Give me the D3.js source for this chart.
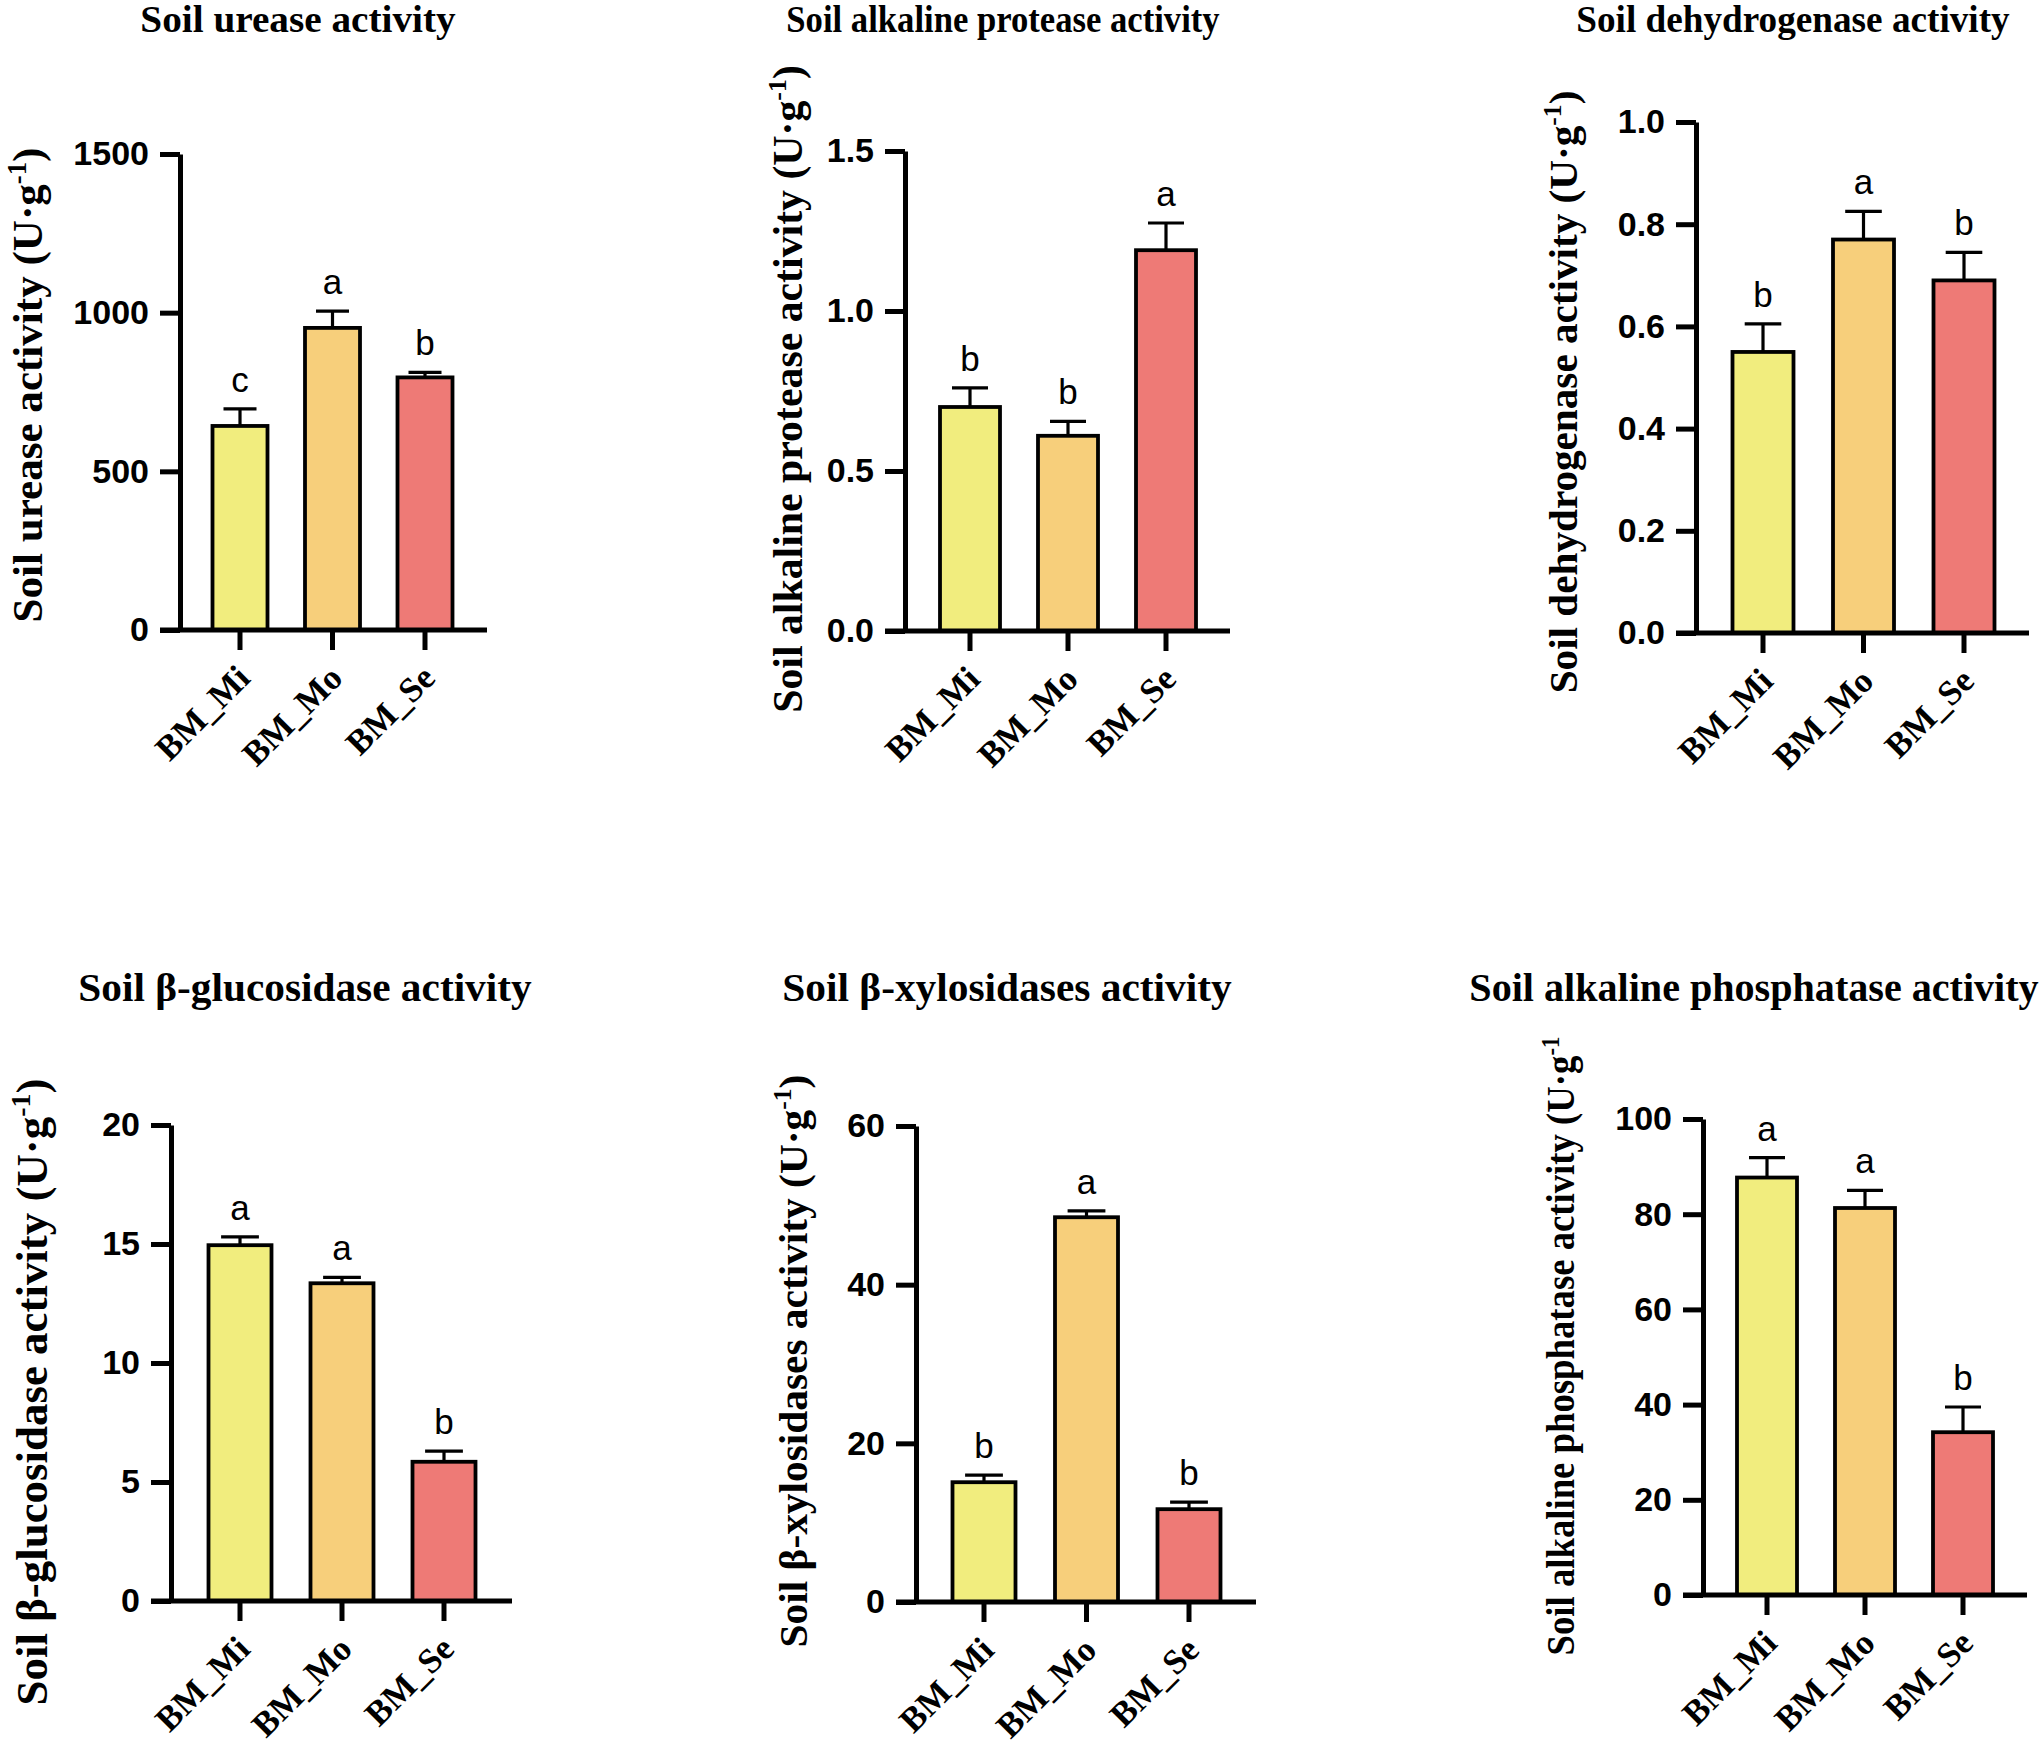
<!DOCTYPE html>
<html>
<head>
<meta charset="utf-8">
<script src="https://cdn.jsdelivr.net/npm/d3@7"></script>
<style>
  body { margin: 0; background: #fff; }
</style>
</head>
<body>
<script>

var W = 2041, H = 1748;

// groups and colours
var groups = ["BM_Mi", "BM_Mo", "BM_Se"];
var barColors = ["#F1ED7E", "#F7CF7B", "#EE7A76"];

// values (mean, error bar, letters, ticks)
var ureaseMean = [643, 952, 796];
var ureaseErr = [54, 53, 16];
var ureaseSig = ["c", "a", "b"];
var ureaseTicks = [0, 500, 1000, 1500];

var proteaseMean = [0.70, 0.61, 1.19];
var proteaseErr = [0.06, 0.045, 0.085];
var proteaseSig = ["b", "b", "a"];
var proteaseTicks = [0, 0.5, 1.0, 1.5];

var dehydMean = [0.55, 0.77, 0.69];
var dehydErr = [0.055, 0.055, 0.055];
var dehydSig = ["b", "a", "b"];
var dehydTicks = [0, 0.2, 0.4, 0.6, 0.8, 1.0];

var glucoMean = [14.95, 13.35, 5.85];
var glucoErr = [0.35, 0.25, 0.45];
var glucoSig = ["a", "a", "b"];
var glucoTicks = [0, 5, 10, 15, 20];

var xyloMean = [15.1, 48.5, 11.7];
var xyloErr = [0.9, 0.8, 0.9];
var xyloSig = ["b", "a", "b"];
var xyloTicks = [0, 20, 40, 60];

var phosMean = [87.7, 81.3, 34.2];
var phosErr = [4.2, 3.7, 5.3];
var phosSig = ["a", "a", "b"];
var phosTicks = [0, 20, 40, 60, 80, 100];

var serif = "'Liberation Serif', 'Times New Roman', serif";
var sans = "'Liberation Sans', Arial, sans-serif";

// layout of each panel
var panels = [
  {title: "Soil urease activity", label: "Soil urease activity (U·g", close: ")",
   mean: ureaseMean, err: ureaseErr, sig: ureaseSig, ticks: ureaseTicks, fmt: d3.format("d"),
   ax: 180, top: 154, bot: 630, xEnd: 487, c0: 240, step: 92.5, bw: 55,
   tx: 298, ty: 32, tw: 316, tfs: 37, lx: 42, ly: 385, lw: 475, lfs: 43},
  {title: "Soil alkaline protease activity", label: "Soil alkaline protease activity (U·g", close: ")",
   mean: proteaseMean, err: proteaseErr, sig: proteaseSig, ticks: proteaseTicks, fmt: d3.format(".1f"),
   ax: 905, top: 151, bot: 631, xEnd: 1230, c0: 970, step: 98, bw: 60,
   tx: 1003, ty: 32, tw: 434, tfs: 37, lx: 802, ly: 389, lw: 648, lfs: 42},
  {title: "Soil dehydrogenase activity", label: "Soil dehydrogenase activity (U·g", close: ")",
   mean: dehydMean, err: dehydErr, sig: dehydSig, ticks: dehydTicks, fmt: d3.format(".1f"),
   ax: 1696, top: 122, bot: 633, xEnd: 2029, c0: 1763, step: 100.5, bw: 61,
   tx: 1793, ty: 32, tw: 434, tfs: 37, lx: 1577, ly: 392, lw: 603, lfs: 41},
  {title: "Soil β-glucosidase activity", label: "Soil β-glucosidase activity (U·g", close: ")",
   mean: glucoMean, err: glucoErr, sig: glucoSig, ticks: glucoTicks, fmt: d3.format("d"),
   ax: 171, top: 1125, bot: 1601, xEnd: 512, c0: 240, step: 102, bw: 63,
   tx: 305, ty: 1001, tw: 454, tfs: 41, lx: 47, ly: 1392, lw: 627, lfs: 44},
  {title: "Soil β-xylosidases activity", label: "Soil β-xylosidases activity (U·g", close: ")",
   mean: xyloMean, err: xyloErr, sig: xyloSig, ticks: xyloTicks, fmt: d3.format("d"),
   ax: 916, top: 1126, bot: 1602, xEnd: 1256, c0: 984, step: 102.5, bw: 63,
   tx: 1007, ty: 1001, tw: 450, tfs: 41, lx: 807, ly: 1361, lw: 573, lfs: 41},
  {title: "Soil alkaline phosphatase activity", label: "Soil alkaline phosphatase activity (U·g", close: "",
   mean: phosMean, err: phosErr, sig: phosSig, ticks: phosTicks, fmt: d3.format("d"),
   ax: 1703, top: 1119, bot: 1595, xEnd: 2027, c0: 1767, step: 98, bw: 60,
   tx: 1754, ty: 1001, tw: 570, tfs: 41, lx: 1574, ly: 1346, lw: 619, lfs: 40}
];

var svg = d3.select("body").append("svg")
  .attr("width", W).attr("height", H)
  .style("display", "block");

// squeeze or stretch a text horizontally so it spans a measured width
function fitText(t, target, pre) {
  var w = t.node().getBBox().width;
  t.attr("transform", pre + " scale(" + (target / w) + ",1)");
}

panels.forEach(function(p) {
  var g = svg.append("g");
  var tickLen = 20;
  var axW = 5;

  var y = d3.scaleLinear()
    .domain([0, d3.max(p.ticks)])
    .range([p.bot, p.top]);

  var pi = 1 - p.bw / p.step;
  var x = d3.scaleBand()
    .domain(groups)
    .range([p.c0 - p.step / 2, p.c0 + 2.5 * p.step])
    .paddingInner(pi)
    .paddingOuter(pi / 2);

  // bars
  g.selectAll("rect.bar")
    .data(groups).enter().append("rect")
    .attr("class", "bar")
    .attr("x", function(d) { return x(d); })
    .attr("width", x.bandwidth())
    .attr("y", function(d, i) { return y(p.mean[i]); })
    .attr("height", function(d, i) { return y(0) - y(p.mean[i]); })
    .attr("fill", function(d, i) { return barColors[i]; })
    .attr("stroke", "#000")
    .attr("stroke-width", 3.8);

  // error bars (upper only)
  var capW = x.bandwidth() * 0.3;
  g.selectAll("line.err")
    .data(groups).enter().append("line")
    .attr("class", "err")
    .attr("x1", function(d) { return x(d) + x.bandwidth() / 2; })
    .attr("x2", function(d) { return x(d) + x.bandwidth() / 2; })
    .attr("y1", function(d, i) { return y(p.mean[i]); })
    .attr("y2", function(d, i) { return y(p.mean[i] + p.err[i]); })
    .attr("stroke", "#000").attr("stroke-width", 3.2);
  g.selectAll("line.cap")
    .data(groups).enter().append("line")
    .attr("class", "cap")
    .attr("x1", function(d) { return x(d) + x.bandwidth() / 2 - capW; })
    .attr("x2", function(d) { return x(d) + x.bandwidth() / 2 + capW; })
    .attr("y1", function(d, i) { return y(p.mean[i] + p.err[i]); })
    .attr("y2", function(d, i) { return y(p.mean[i] + p.err[i]); })
    .attr("stroke", "#000").attr("stroke-width", 3.2);

  // significance letters
  g.selectAll("text.sig")
    .data(groups).enter().append("text")
    .attr("class", "sig")
    .attr("x", function(d) { return x(d) + x.bandwidth() / 2; })
    .attr("y", function(d, i) { return y(p.mean[i] + p.err[i]) - 17; })
    .attr("text-anchor", "middle")
    .attr("font-family", sans).attr("font-size", 35)
    .text(function(d, i) { return p.sig[i]; });

  // y axis
  var yAxis = g.append("g")
    .attr("transform", "translate(" + p.ax + ",0)")
    .call(d3.axisLeft(y).tickValues(p.ticks).tickFormat(p.fmt)
      .tickSize(tickLen).tickSizeOuter(0).tickPadding(11));
  yAxis.select(".domain").attr("stroke", "#000").attr("stroke-width", axW);
  yAxis.selectAll(".tick line").attr("stroke", "#000").attr("stroke-width", axW);
  yAxis.selectAll(".tick text")
    .attr("font-family", sans).attr("font-weight", "bold")
    .attr("font-size", 34).attr("fill", "#000");

  // x axis: ticks from the band scale, base line drawn from the y tick end
  var xAxis = g.append("g")
    .attr("transform", "translate(0," + y(0) + ")")
    .call(d3.axisBottom(x).tickSize(tickLen).tickSizeOuter(0).tickFormat(""));
  xAxis.select(".domain").remove();
  xAxis.selectAll(".tick line").attr("stroke", "#000").attr("stroke-width", axW);
  g.append("line")
    .attr("x1", p.ax - tickLen).attr("x2", p.xEnd)
    .attr("y1", y(0)).attr("y2", y(0))
    .attr("stroke", "#000").attr("stroke-width", axW);

  // rotated category labels
  g.selectAll("text.cat")
    .data(groups).enter().append("text")
    .attr("class", "cat")
    .attr("transform", function(d) {
      return "translate(" + (x(d) + x.bandwidth() / 2 + 12) + "," + (y(0) + 50) + ") rotate(-45)";
    })
    .attr("text-anchor", "end")
    .attr("font-family", serif).attr("font-weight", "bold")
    .attr("font-size", 35)
    .text(function(d) { return d; });

  // panel title
  var t = g.append("text")
    .attr("text-anchor", "middle")
    .attr("font-family", serif).attr("font-weight", "bold")
    .attr("font-size", p.tfs)
    .text(p.title);
  fitText(t, p.tw, "translate(" + p.tx + "," + p.ty + ")");

  // y axis label with superscript
  var fs = p.lfs;
  var lab = g.append("text")
    .attr("text-anchor", "middle")
    .attr("font-family", serif).attr("font-weight", "bold")
    .attr("font-size", fs);
  lab.append("tspan").text(p.label);
  lab.append("tspan").attr("font-size", fs * 0.62).attr("dy", -fs * 0.38).text("-1");
  if (p.close) lab.append("tspan").attr("dy", fs * 0.38).text(p.close);
  fitText(lab, p.lw, "translate(" + p.lx + "," + p.ly + ") rotate(-90)");
});

</script>
</body>
</html>
